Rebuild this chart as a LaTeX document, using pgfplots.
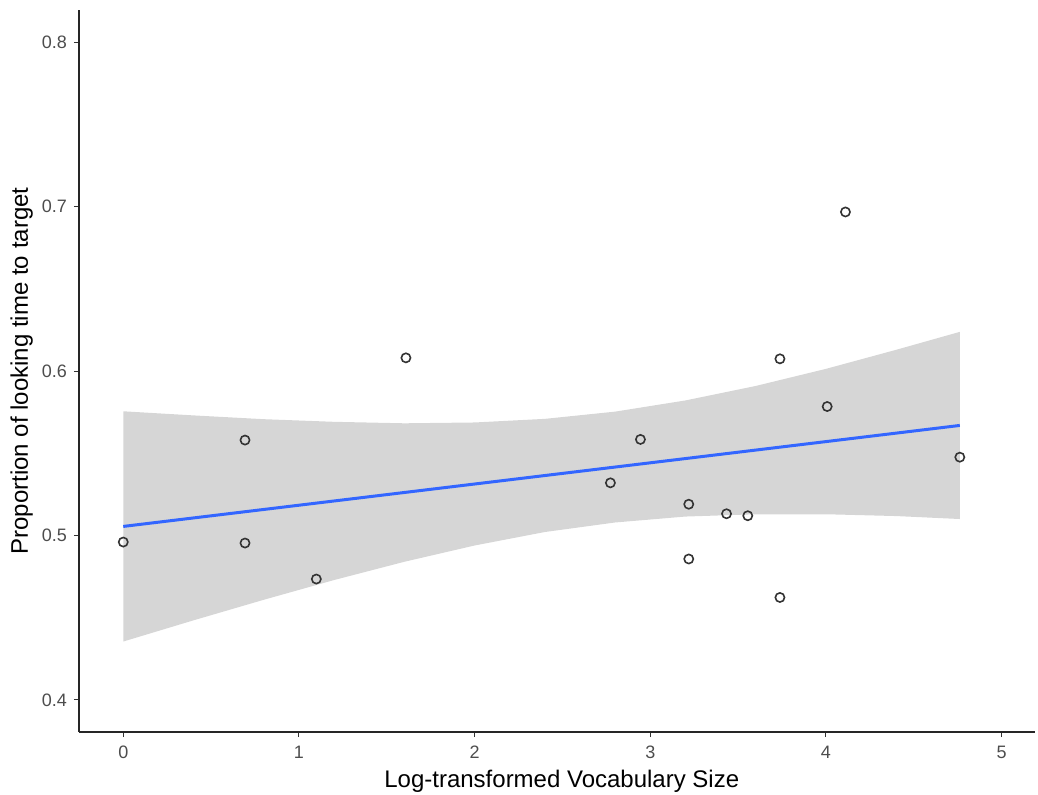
\documentclass[border=0pt]{standalone}
\usepackage{fontspec}
\setmainfont{Liberation Sans}
\usepackage{pgfplots}
\pgfplotsset{compat=1.18}
\definecolor{band}{RGB}{214,214,214}
\definecolor{fitblue}{RGB}{51,102,255}
\definecolor{tickgrey}{RGB}{77,77,77}
\begin{document}
\begin{tikzpicture}
\path[use as bounding box] (-39.5pt,-31pt) rectangle (479.5pt,366pt);
\begin{axis}[
  scale only axis, width=478pt, height=361pt,
  xmin=-0.252, xmax=5.19, ymin=0.3805, ymax=0.8195,
  axis lines=left,
  axis line style={-, line width=1pt, black!85},
  xtick={0,1,2,3,4,5}, xticklabels={0,1,2,3,4,5},
  ytick={0.4,0.5,0.6,0.7,0.8}, yticklabels={0.4,0.5,0.6,0.7,0.8},
  tick align=outside, major tick length=2.5pt,
  tick style={line width=0.5pt, black!80},
  ticklabel style={font=\fontsize{9}{10}\selectfont, text=tickgrey},
  xticklabel style={anchor=base, yshift=-10.6pt},
  yticklabel style={anchor=east, xshift=0pt},
  xlabel={Log-transformed Vocabulary Size},
  ylabel={Proportion of looking time to target},
  label style={font=\fontsize{12}{13}\selectfont},
  xlabel style={at={(axis description cs:0.505,0)}, anchor=base, yshift=-27.5pt},
  ylabel style={at={(axis description cs:-0.0534,0.500)}, anchor=base},
  clip=false,
]
% confidence band (upper edge left to right, lower edge right to left)
\addplot[fill=band, draw=none] coordinates {
  (0,0.5755) (0.4,0.5730) (0.8,0.5707) (1.2,0.5691) (1.6,0.5682) (2.0,0.5687)
  (2.4,0.5709) (2.8,0.5753) (3.2,0.5821) (3.6,0.5909) (4.0,0.6013) (4.4,0.6129) (4.762,0.6238)
  (4.762,0.5100) (4.4,0.5118) (4.0,0.5129) (3.6,0.5129) (3.2,0.5115) (2.8,0.5079)
  (2.4,0.5021) (2.0,0.4939) (1.6,0.4840) (1.2,0.4729) (0.8,0.4609) (0.4,0.4484) (0,0.4355)
};
% fitted line
\addplot[fitblue, line width=1.5pt] coordinates {(0,0.5055) (4.762,0.5669)};
% observations
\addplot[only marks, mark=o, mark size=2.3pt, mark options={line width=0.8pt, draw=black!80}] coordinates {
  (0,0.496) (0.693,0.558) (0.693,0.4954) (1.099,0.4735) (1.609,0.608)
  (2.773,0.532) (2.944,0.5584) (3.219,0.519) (3.219,0.4857) (3.434,0.5132)
  (3.555,0.512) (3.738,0.6074) (3.738,0.4623) (4.007,0.5784) (4.111,0.6967) (4.762,0.5476)
};
\end{axis}
\end{tikzpicture}
\end{document}
